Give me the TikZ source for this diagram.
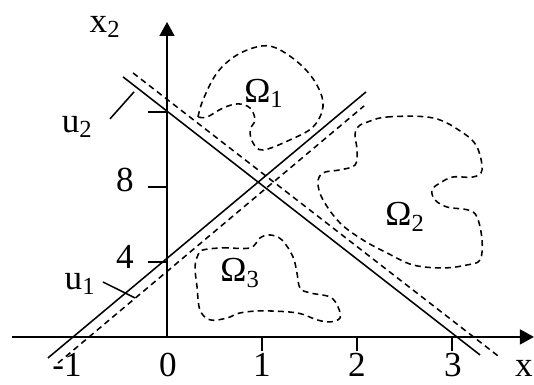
\documentclass[tikz,border=0pt]{standalone}
\usepackage{fontspec}
\setmainfont{Liberation Serif}
\usetikzlibrary{positioning,arrows.meta}
\tikzset{axis/.style={line width=1.7pt,-{Triangle[length=10pt,width=10.5pt]}},
	tick/.style={line width=1.2pt},
	ln/.style={line width=1.1pt},
	bnd/.style={line width=1.1pt,dash pattern=on 4.2pt off 3pt}}

\begin{document}
\begin{tikzpicture}[x=2.375cm,y=0.46875cm,font=\fontsize{25}{30}\selectfont]
	\useasboundingbox (-1.758,-2.56) rectangle (3.863,17.97);
	% axes
	\draw[axis] (-1.63,0) -- (3.863,0);
	\draw[axis] (0,0) -- (0,16.8);
	\foreach \y in {4,8,12} \draw[tick] (-0.2,\y) -- (0,\y);
	\foreach \x in {1,2,3} \draw[tick] (\x,0) -- (\x,-0.75);
	\foreach \x/\t [count=\i] in {-1.053/-1,0.01/0,1/1,2/2,3.01/3,3.758/x}
		\node[anchor=base] (t\i) at (\x,-2.1) {\t};
	\node (l4) at (-0.442,4.27) {4};
	\node (l8) at (-0.442,8.37) {8};
	\node (lx2) at (-0.653,16.53) {x\textsubscript{2}};
	% the two lines and their shifted copies
	\draw[ln] (-1.253,-1.12) -- (2.095,13.07);
	\draw[bnd] (-1.147,-1.39) -- (2.074,12.32);
	\draw[ln] (-0.463,13.87) -- (3.295,-0.96);
	\draw[bnd] (-0.358,14.08) -- (3.484,-1.01);
	\node (lu1) at (-0.916,2.83) {u\textsubscript{1}};
	\node (lu2) at (-0.947,11.2) {u\textsubscript{2}};
	\coordinate (a1) at (-0.674,2.93);
	\coordinate (b1) at (-0.337,2.08);
	\coordinate (a2) at (-0.6,11.63);
	\coordinate (b2) at (-0.347,13.07);
	\draw[ln] (a1) -- (b1);
	\draw[ln] (a2) -- (b2);
	% regions
	\draw[bnd] plot[smooth,tension=0.6] coordinates {(0.326,11.73) (0.379,12.64) (0.526,14.08) (0.737,15.04) (1.0,15.52) (1.189,15.31) (1.432,14.4) (1.589,13.33) (1.642,12.27) (1.537,11.2) (1.295,10.51) (1.011,9.97) (0.905,10.35) (0.874,11.04) (0.926,11.57) (0.874,12.21) (0.747,12.43) (0.589,12.21) (0.421,11.73) (0.326,11.73)};
	\draw[bnd] plot[smooth cycle,tension=0.6] coordinates {(2.084,11.41) (2.316,11.73) (2.8,11.68) (3.116,10.88) (3.263,10.13) (3.316,8.91) (3.221,8.53) (3.011,8.53) (2.874,8.21) (2.789,7.84) (2.821,7.31) (2.947,6.93) (3.168,6.77) (3.263,6.4) (3.316,5.17) (3.295,4.11) (3.158,3.84) (2.905,3.68) (2.589,3.84) (2.316,4.48) (2.063,5.17) (1.821,6.08) (1.642,7.31) (1.589,8.21) (1.642,8.75) (1.821,8.91) (1.979,9.17) (2.0,9.97) (1.979,10.77) (2.011,11.2)};
	\draw[bnd] plot[smooth cycle,tension=0.6] coordinates {(0.379,4.64) (0.589,4.75) (0.874,4.75) (0.979,5.28) (1.084,5.44) (1.211,5.17) (1.326,4.27) (1.368,3.41) (1.4,2.61) (1.505,2.35) (1.716,2.13) (1.8,1.6) (1.821,1.01) (1.716,0.8) (1.579,0.91) (1.368,1.28) (1.011,1.39) (0.768,1.28) (0.632,1.01) (0.453,0.91) (0.347,1.44) (0.316,2.67) (0.295,3.73) (0.326,4.37)};
	\node (o1) at (1.02,13.01) {Ω\textsubscript{1}};
	\node (o2) at (2.505,6.4) {Ω\textsubscript{2}};
	\node (o3) at (0.768,3.41) {Ω\textsubscript{3}};
\end{tikzpicture}
\end{document}
